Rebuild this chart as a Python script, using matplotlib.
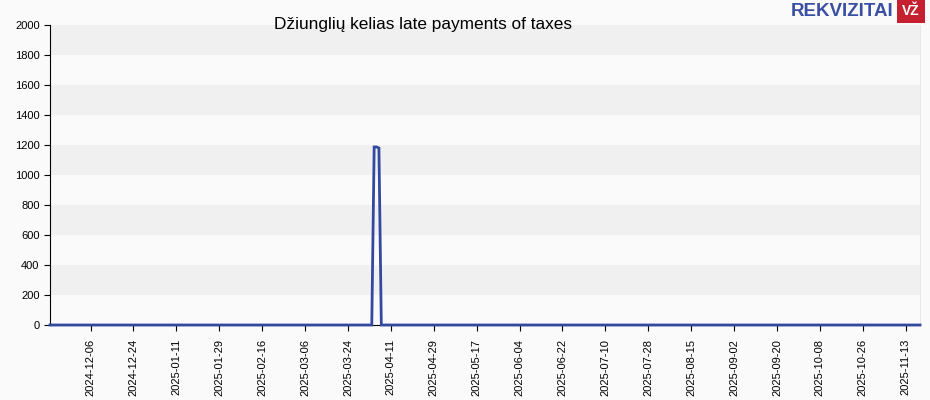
import matplotlib as mpl
import matplotlib.pyplot as plt
import matplotlib.dates as mdates
import pandas as pd

mpl.rcParams["font.family"] = ["Liberation Sans", "DejaVu Sans"]

TITLE = "Džiunglių kelias late payments of taxes"
START = "2024-11-19"
END = "2025-11-19"
# days with a non-zero amount of late taxes (EUR)
SPIKE_DATES = ["2025-04-04", "2025-04-05", "2025-04-06"]
SPIKE_VALUES = [1187, 1187, 1180]
TICK_DATES = ["2024-12-06", "2024-12-24", "2025-01-11", "2025-01-29", "2025-02-16",
              "2025-03-06", "2025-03-24", "2025-04-11", "2025-04-29", "2025-05-17",
              "2025-06-04", "2025-06-22", "2025-07-10", "2025-07-28", "2025-08-15",
              "2025-09-02", "2025-09-20", "2025-10-08", "2025-10-26", "2025-11-13"]
Y_TICKS = [0, 200, 400, 600, 800, 1000, 1200, 1400, 1600, 1800, 2000]

dates = pd.date_range(START, END, freq="D")
series = pd.Series(0.0, index=dates)
series.loc[pd.to_datetime(SPIKE_DATES)] = SPIKE_VALUES

fig = plt.figure(figsize=(9.3, 4.0), dpi=100, facecolor="#fafafa")
ax = fig.add_axes([50 / 930, 75 / 400, 870 / 930, 300 / 400])
ax.set_facecolor("#fafafa")

for i in range(len(Y_TICKS) - 1):
    if i % 2 == 1:
        ax.axhspan(Y_TICKS[i], Y_TICKS[i + 1], color="#f0f0f0", lw=0, zorder=0)

ax.plot(series.index, series.values, color="#3349a0", lw=2.0, zorder=3,
        solid_joinstyle="miter", clip_on=False)

ax.set_xlim(pd.Timestamp(START), pd.Timestamp(END))
ax.set_ylim(0, 2000)
ax.set_yticks(Y_TICKS)
ax.set_xticks(pd.to_datetime(TICK_DATES))
ax.xaxis.set_major_formatter(mdates.DateFormatter("%Y-%m-%d"))
ax.tick_params(axis="x", rotation=90, labelsize=8, length=4, pad=6)
ax.tick_params(axis="y", labelsize=8, length=4)

ax.spines["top"].set_visible(False)
ax.spines["right"].set_color("#e8e8e8")
ax.spines["left"].set_color("black")
ax.spines["bottom"].set_color("black")

fig.text(423 / 930, 1 - 25 / 400, TITLE, ha="center", va="center", fontsize=12.4)

fig.text(893 / 930, 1 - 11 / 400, "REKVIZITAI", ha="right", va="center",
         fontsize=13.5, fontweight="bold", color="#3a4fa3")
fig.text(911 / 930, 1 - 11 / 400, "VŽ", ha="center", va="center",
         fontsize=10, fontweight="bold", color="white",
         bbox=dict(boxstyle="square,pad=0.35", facecolor="#c4202f", edgecolor="none"))

fig.savefig("out.png", dpi=100, facecolor=fig.get_facecolor())
